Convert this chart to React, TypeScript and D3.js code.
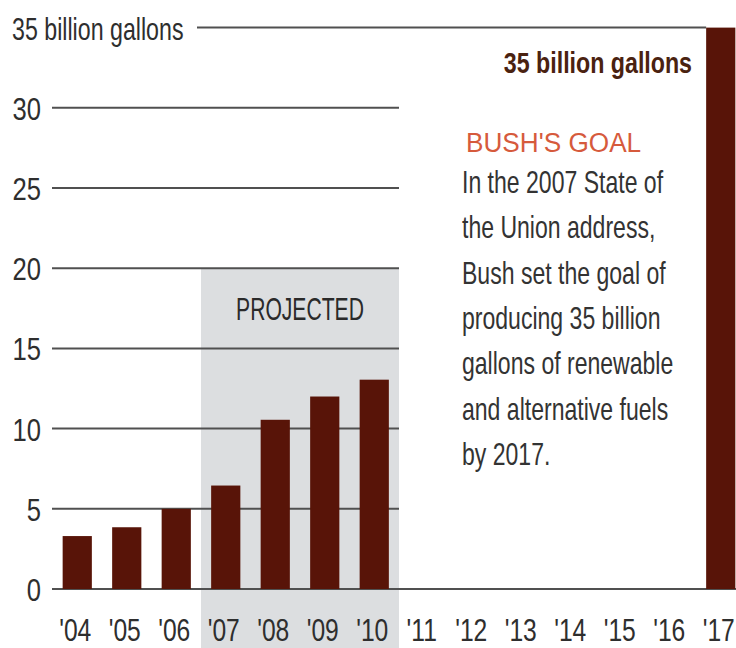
import React from "react";
import * as d3 from "d3";

const years = ["'04", "'05", "'06", "'07", "'08", "'09", "'10", "'11", "'12", "'13", "'14", "'15", "'16", "'17"];
const values = [3.3, 3.85, 5.0, 6.45, 10.55, 12.0, 13.05, 0, 0, 0, 0, 0, 0, 35];
const yTicks = [0, 5, 10, 15, 20, 25, 30, 35];
const projectedYears = ["'07", "'10"];
const goalValue = "35 billion gallons";
const goalTitle = "BUSH'S GOAL";
const goalLines = [
  "In the 2007 State of",
  "the Union address,",
  "Bush set the goal of",
  "producing 35 billion",
  "gallons of renewable",
  "and alternative fuels",
  "by 2017.",
];

const W = 736;
const H = 648;
const FONT = "'Liberation Sans', Arial, sans-serif";
const BAR = "#581408";
const GRID = "#505050";
const TXT = "#2e2e2e";

function SText(props: any) {
  const { x, y, sx = 1, anchor = "start", size, weight = 400, fill = TXT, children } = props;
  return (
    <text
      transform={`translate(${x},${y}) scale(${sx},1)`}
      textAnchor={anchor}
      fontSize={size}
      fontWeight={weight}
      fill={fill}
      fontFamily={FONT}
    >
      {children}
    </text>
  );
}

export default function App() {
  const x = d3.scaleBand<string>().domain(years).range([52.5, 745.5]).paddingInner(0.41).paddingOuter(0.205);
  const y = d3.scaleLinear().domain([0, 35]).range([589, 27.6]);
  const bw = x.bandwidth();
  const gap = (x.step() * 0.41) / 2;
  const shadeX0 = (x(projectedYears[0]) as number) - gap;
  const shadeX1 = (x(projectedYears[1]) as number) + bw + gap;
  const gridLeft = 52;
  const lastX = x(years[years.length - 1]) as number;

  return (
    <svg width={W} height={H} style={{ position: "absolute", left: 0, top: 0, background: "#fff" }}>
      <rect x={0} y={0} width={W} height={H} fill="#fff" />
      {/* projected shading */}
      <rect x={shadeX0} y={y(20)} width={shadeX1 - shadeX0} height={H - y(20)} fill="#dcdee0" />
      <SText x={(shadeX0 + shadeX1) / 2} y={320} sx={0.66} anchor="middle" size={32} fill="#2a2a2a">
        PROJECTED
      </SText>

      {/* grid lines */}
      {yTicks.map((t) => {
        let x0 = gridLeft;
        let x1 = shadeX1;
        if (t === 0) x1 = W;
        if (t === 35) {
          x0 = 197;
          x1 = lastX;
        }
        return <line key={t} x1={x0} x2={x1} y1={y(t)} y2={y(t)} stroke={GRID} strokeWidth={2} />;
      })}

      {/* y tick labels */}
      {yTicks.map((t) =>
        t === 35 ? (
          <SText key={t} x={12} y={y(t) + 12} sx={0.725} size={32}>
            35 billion gallons
          </SText>
        ) : (
          <SText key={t} x={41} y={y(t) + 12} sx={0.8} anchor="end" size={32}>
            {String(t)}
          </SText>
        )
      )}

      {/* bars */}
      {years.map((yr, i) =>
        values[i] > 0 ? (
          <rect key={yr} x={x(yr)} y={y(values[i])} width={bw} height={y(0) - y(values[i])} fill={BAR} />
        ) : null
      )}

      {/* x labels */}
      {years.map((yr) => (
        <SText key={yr} x={(x(yr) as number) + bw / 2 - 2} y={641} sx={0.77} anchor="middle" size={32}>
          {yr}
        </SText>
      ))}

      {/* annotation */}
      <SText x={692} y={73} sx={0.8} anchor="end" size={29} weight={700} fill="#4a2210">
        {goalValue}
      </SText>
      <SText x={466} y={152} sx={0.97} size={27} fill="#d65a3c">
        {goalTitle}
      </SText>
      {goalLines.map((l, i) => (
        <SText key={i} x={462} y={193 + i * 45.3} sx={0.72} size={32} fill="#333">
          {l}
        </SText>
      ))}
    </svg>
  );
}
